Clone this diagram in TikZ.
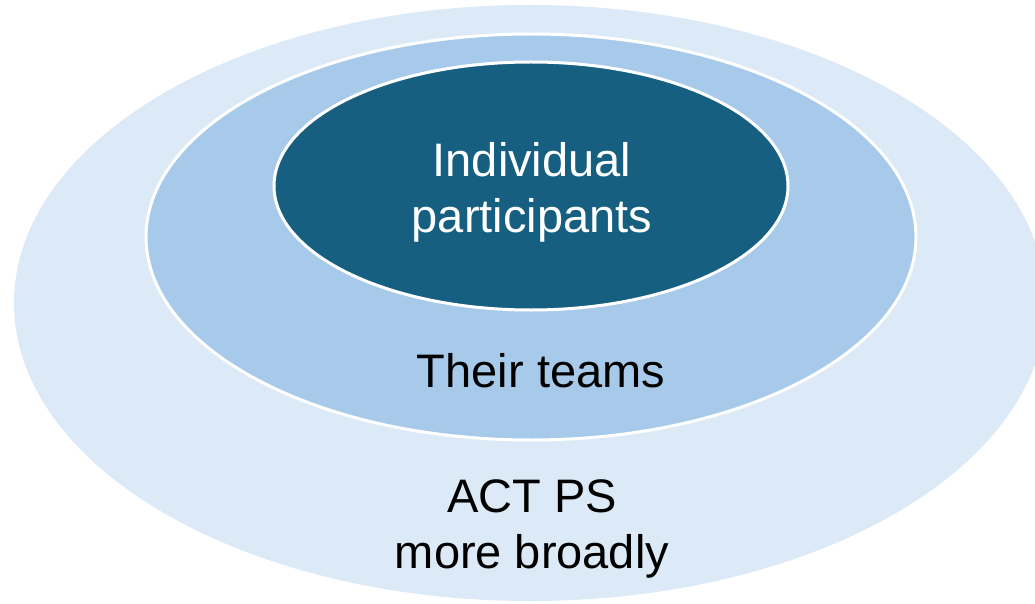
\documentclass[tikz,border=0pt]{standalone}
\usepackage{fontspec}
\setmainfont{Liberation Sans}
\definecolor{outerc}{HTML}{DCE9F6}
\definecolor{midc}{HTML}{A7CAEB}
\definecolor{innerc}{HTML}{165F81}
\begin{document}
\begin{tikzpicture}[x=1pt,y=-1pt,
  ring/.style={draw=white,line width=3pt},
  lbl/.style={font=\fontsize{47}{57}\selectfont,align=center,inner sep=0pt}]
\useasboundingbox (0,0) rectangle (1035,604);
\clip (0,0) rectangle (1035,604);
\fill[outerc] (530,303) ellipse [x radius=516, y radius=298];
\path[ring,fill=midc] (531,237) ellipse [x radius=385, y radius=203];
\path[ring,fill=innerc] (531,186) ellipse [x radius=257, y radius=124];
\node[lbl,text=white,anchor=base] (ind) at (532,176) {Individual};
\node[lbl,text=white,anchor=base] (par) at (532,232) {participants};
\node[lbl,text=black,anchor=base] (team) at (541,387) {Their teams};
\node[lbl,text=black,anchor=base] (act) at (532,512) {ACT PS};
\node[lbl,text=black,anchor=base] (more) at (532,568) {more broadly};
\end{tikzpicture}
\end{document}
